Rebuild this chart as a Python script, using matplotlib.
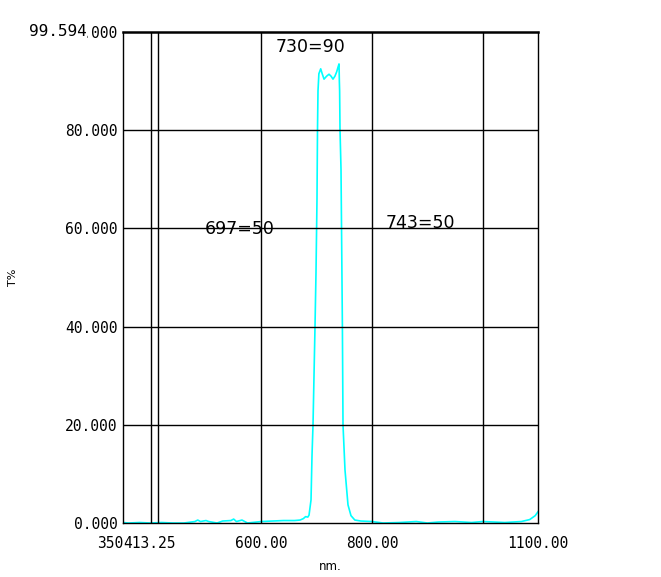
import numpy as np
import matplotlib
matplotlib.use("Agg")
import matplotlib.pyplot as plt

# спектр пропускания (нм, T%)
wl = np.array([350, 360, 380, 400, 420, 440, 460, 480, 485, 490, 500, 505, 520,
               530, 545, 550, 555, 565, 575, 600, 620, 640, 660, 670, 676, 680,
               684, 686.2, 689.8, 691.6, 693.4, 697, 698.8, 700.6, 701.5, 702.4,
               704, 707.3, 710, 713.3, 718, 722.3, 726, 729.5, 733, 736.2, 738.5,
               740.4, 741, 741.5, 742.2, 744, 745.8, 746.5, 747.6, 751.2, 756.6,
               762, 769, 780, 800, 820, 850, 880, 900, 920, 950, 980, 1000, 1040,
               1070, 1085, 1095, 1100])
T = np.array([0.1, 0.0, 0.1, 0.0, 0.1, 0.0, 0.0, 0.3, 0.6, 0.3, 0.5, 0.3, 0.0,
              0.4, 0.5, 0.8, 0.3, 0.6, 0.0, 0.3, 0.4, 0.5, 0.5, 0.6, 0.9, 1.3,
              1.2, 1.6, 4.7, 13.8, 20.0, 40.0, 51.0, 66.0, 80.0, 88.0,
              91.5, 92.5, 91.5, 90.4, 91.0, 91.4, 91.0, 90.4, 91.0, 91.9, 92.8,
              93.5, 90.0, 88.0, 80.0, 72.0, 49.0, 40.0, 20.0, 10.8, 3.7,
              1.5, 0.6, 0.4, 0.3, 0.0, 0.1, 0.3, 0.0, 0.2, 0.3, 0.1, 0.3, 0.1,
              0.3, 0.7, 1.5, 2.3])

x_ticks = [350, 600, 800, 1100]
x_labels = ["350", "600.00", "800.00", "1100.00"]
y_ticks = [0, 20, 40, 60, 80, 100]
v_lines = [400, 413.25, 600, 800, 1000]

# метки
notes = [(688, 96.9, "730=90"), (561.5, 59.9, "697=50"), (886.8, 61.1, "743=50")]

W, H = 661, 577
fig = plt.figure(figsize=(W / 100, H / 100), dpi=100)
ax = fig.add_axes([123 / W, 1 - 523 / H, (538 - 123) / W, (523 - 32) / H])

ax.plot(wl, T, color="#00ffff", lw=1.2)
ax.set_xlim(350, 1100)
ax.set_ylim(0, 100)

for v in v_lines:
    ax.axvline(v, color="black", lw=1)
for y in y_ticks[1:-1]:
    ax.axhline(y, color="black", lw=1)

for s in ax.spines.values():
    s.set_linewidth(1)
ax.spines["top"].set_linewidth(1.8)

mono = "DejaVu Sans Mono"
ax.set_xticks(x_ticks, x_labels, family=mono, fontsize=10.5)
ax.set_yticks(y_ticks, [f"{v:.3f}" for v in y_ticks], family=mono, fontsize=10.5)
ax.tick_params(length=0)
ax.tick_params(axis="x", pad=9)
ax.tick_params(axis="y", pad=4)
ax.get_xticklabels()[0].set_ha("right")
ax.annotate("413.25", xy=(350, 0), xycoords="data", xytext=(0, -9),
            textcoords="offset points", ha="left", va="top",
            family=mono, fontsize=10.5)

fig.text(87 / W, 1 - 32 / H, "99.594", ha="right", va="center", family=mono,
         fontsize=11.5, bbox=dict(facecolor="white", edgecolor="none", pad=0))

for xn, yn, s in notes:
    ax.text(xn, yn, s, ha="center", va="center", fontsize=12.5)

ax.set_xlabel("nm.", fontsize=8.5, va="center")
ax.xaxis.set_label_coords(0.5, -(567 - 523) / 491)
ax.set_ylabel("T%", fontsize=8, va="center")
ax.yaxis.set_label_coords((13 - 123) / 415, 0.5)

fig.savefig("out.png", dpi=100)
